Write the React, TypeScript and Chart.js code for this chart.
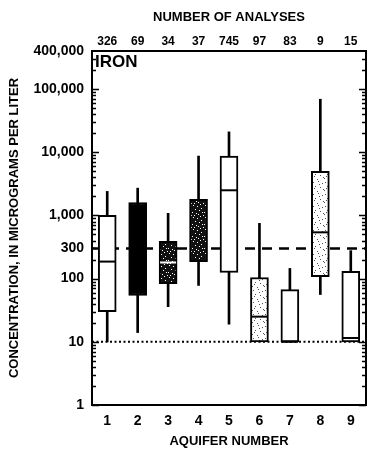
import { useEffect, useRef } from 'react';
import { Chart, registerables } from 'chart.js';

Chart.register(...registerables);

// ---- data ----
const AQUIFERS = ['1', '2', '3', '4', '5', '6', '7', '8', '9'];
const ANALYSES = ['326', '69', '34', '37', '745', '97', '83', '9', '15'];
const WHISKER_LOW = [10, 14, 36, 78, 19, 10, 10, 56, 10];
const Q1 = [30, 54, 83, 186, 125, 10, 10, 107, 10];
const MEDIAN: (number | null)[] = [186, null, 180, null, 2500, 25, 10, 540, 11.5];
const Q3 = [1000, 1600, 390, 1800, 8700, 104, 67, 5000, 130];
const WHISKER_HIGH = [2400, 2700, 1080, 8700, 21000, 750, 145, 69000, 277];
const FILLS = ['open', 'solid', 'dark', 'dark', 'open', 'light', 'open', 'light', 'open'];
const Y_TICK_VALUES = [1, 10, 100, 300, 1000, 10000, 100000, 400000];
const Y_TICK_LABELS = ['1', '10', '100', '300', '1,000', '10,000', '100,000', '400,000'];
const DASHED_LEVEL = 300;
const DOTTED_LEVEL = 10;
const CONSTITUENT = 'IRON';

const FONT = "'Liberation Sans', Arial, Helvetica, sans-serif";

function makePattern(bg: string, dot: string, dots: number[][], size: number) {
  const c = document.createElement('canvas');
  c.width = size;
  c.height = size;
  const g = c.getContext('2d')!;
  g.fillStyle = bg;
  g.fillRect(0, 0, size, size);
  g.fillStyle = dot;
  dots.forEach(([x, y]) => g.fillRect(x, y, 1, 1));
  return g.createPattern(c, 'repeat')!;
}

const DARK_DOTS = [[1, 1], [5, 2], [8, 0], [3, 5], [7, 6], [0, 8], [4, 9], [9, 4], [6, 10], [10, 8], [2, 11], [11, 11]];
const LIGHT_DOTS = [[1, 2], [6, 1], [10, 3], [3, 6], [8, 7], [0, 10], [5, 11], [11, 9], [7, 4], [2, 8]];

function minorTickValues() {
  const vals: number[] = [];
  for (let d = 1; d <= 100000; d *= 10) {
    for (let k = 2; k <= 9; k++) {
      const v = k * d;
      if (v < 400000) vals.push(v);
    }
  }
  return vals;
}
const MAJOR_TICKS = [1, 10, 100, 1000, 10000, 100000];

const framePlugin = {
  id: 'frame',
  beforeDatasetsDraw(chart: any) {
    const { ctx, chartArea: a, scales } = chart;
    const y = scales.y;
    ctx.save();
    ctx.strokeStyle = '#000';
    let py = y.getPixelForValue(DASHED_LEVEL);
    ctx.lineWidth = 2.5;
    ctx.setLineDash([10, 7]);
    ctx.beginPath();
    ctx.moveTo(a.left, py);
    ctx.lineTo(a.right, py);
    ctx.stroke();
    py = y.getPixelForValue(DOTTED_LEVEL);
    ctx.lineWidth = 2;
    ctx.setLineDash([2, 2.5]);
    ctx.beginPath();
    ctx.moveTo(a.left, py);
    ctx.lineTo(a.right, py);
    ctx.stroke();
    ctx.restore();
  },
  afterDatasetsDraw(chart: any) {
    const { ctx, chartArea: a, scales } = chart;
    const y = scales.y;
    ctx.save();
    ctx.strokeStyle = '#000';
    ctx.lineWidth = 2;
    ctx.strokeRect(a.left, a.top, a.right - a.left, a.bottom - a.top);
    ctx.lineWidth = 1.5;
    const drawTick = (v: number, len: number) => {
      const py = Math.round(y.getPixelForValue(v)) + 0.5;
      ctx.beginPath();
      ctx.moveTo(a.left, py);
      ctx.lineTo(a.left + len, py);
      ctx.moveTo(a.right, py);
      ctx.lineTo(a.right - len, py);
      ctx.stroke();
    };
    minorTickValues().forEach((v) => drawTick(v, 4));
    MAJOR_TICKS.forEach((v) => drawTick(v, 7));
    ctx.fillStyle = '#000';
    ctx.font = `bold 17px ${FONT}`;
    ctx.textBaseline = 'middle';
    ctx.textAlign = 'left';
    ctx.fillText(CONSTITUENT, a.left + 3, a.top + 11);
    ctx.restore();
  },
};

export default function App() {
  const ref = useRef<HTMLCanvasElement | null>(null);

  useEffect(() => {
    document.body.style.margin = '0';
    const canvas = ref.current!;
    const ctx = canvas.getContext('2d')!;
    const fillMap: Record<string, any> = {
      open: '#ffffff',
      solid: '#000000',
      dark: makePattern('#111111', '#ffffff', DARK_DOTS, 12),
      light: makePattern('#ffffff', '#555555', LIGHT_DOTS, 12),
    };
    const medianColors = FILLS.map((f) => (f === 'dark' || f === 'solid' ? '#ffffff' : '#000000'));

    const chart = new Chart(ctx, {
      type: 'bar',
      data: {
        labels: AQUIFERS,
        datasets: [
          {
            type: 'line',
            label: 'median',
            data: MEDIAN as any,
            showLine: false,
            pointStyle: 'line',
            pointRadius: 8,
            pointHoverRadius: 8,
            pointBorderWidth: 2,
            pointBorderColor: medianColors,
            borderColor: '#000',
            order: 0,
            xAxisID: 'x',
            yAxisID: 'y',
          } as any,
          {
            type: 'bar',
            label: 'box',
            data: Q1.map((q, i) => [q, Q3[i]]) as any,
            backgroundColor: FILLS.map((f) => fillMap[f]),
            borderColor: '#000',
            borderWidth: 2,
            borderSkipped: false,
            barThickness: 18,
            grouped: false,
            order: 1,
            xAxisID: 'x',
            yAxisID: 'y',
          } as any,
          {
            type: 'bar',
            label: 'whisker',
            data: WHISKER_LOW.map((l, i) => [l, WHISKER_HIGH[i]]) as any,
            backgroundColor: '#000',
            borderWidth: 0,
            barThickness: 2,
            grouped: false,
            order: 2,
            xAxisID: 'x',
            yAxisID: 'y',
          } as any,
        ],
      },
      options: {
        animation: false,
        responsive: false,
        maintainAspectRatio: false,
        devicePixelRatio: 1,
        layout: { padding: { left: 0, right: 2, top: 0, bottom: 0 } },
        plugins: { legend: { display: false }, tooltip: { enabled: false } },
        scales: {
          x: {
            type: 'category',
            labels: AQUIFERS,
            position: 'bottom',
            offset: true,
            grid: { display: false, drawTicks: false },
            border: { display: false },
            ticks: { color: '#000', font: { family: FONT, size: 14, weight: 'bold' }, padding: 8, maxRotation: 0 },
            afterFit: (s: any) => {
              s.height = 45;
            },
            title: {
              display: true,
              text: 'AQUIFER NUMBER',
              color: '#000',
              font: { family: FONT, size: 13, weight: 'bold' },
              padding: { top: 0, bottom: 1 },
            },
          },
          x2: {
            type: 'category',
            labels: ANALYSES,
            position: 'top',
            offset: true,
            grid: { display: false, drawTicks: false },
            border: { display: false },
            ticks: { color: '#000', font: { family: FONT, size: 12, weight: 'bold' }, padding: 2, maxRotation: 0 },
            afterFit: (s: any) => {
              s.height = 51;
            },
            title: {
              display: true,
              text: 'NUMBER OF ANALYSES',
              color: '#000',
              font: { family: FONT, size: 13, weight: 'bold' },
              padding: { top: 10, bottom: 0 },
            },
          },
          y: {
            type: 'logarithmic',
            min: 1,
            max: 400000,
            position: 'left',
            afterBuildTicks: (s: any) => {
              s.ticks = Y_TICK_VALUES.map((v) => ({ value: v }));
            },
            afterFit: (s: any) => {
              s.width = 92;
            },
            grid: { display: false, drawTicks: false },
            border: { display: false },
            ticks: {
              autoSkip: false,
              color: '#000',
              padding: 8,
              font: { family: FONT, size: 14, weight: 'bold' },
              callback: (v: any) => {
                const i = Y_TICK_VALUES.indexOf(Number(v));
                return i >= 0 ? Y_TICK_LABELS[i] : '';
              },
            },
            title: {
              display: true,
              text: 'CONCENTRATION, IN MICROGRAMS PER LITER',
              color: '#000',
              font: { family: FONT, size: 13, weight: 'bold' },
              padding: { top: 7, bottom: 0 },
            },
          },
        },
      } as any,
      plugins: [framePlugin],
    });
    return () => chart.destroy();
  }, []);

  return (
    <div style={{ width: 376, height: 450 }}>
      <canvas ref={ref} width={376} height={450} style={{ display: 'block' }} />
    </div>
  );
}
